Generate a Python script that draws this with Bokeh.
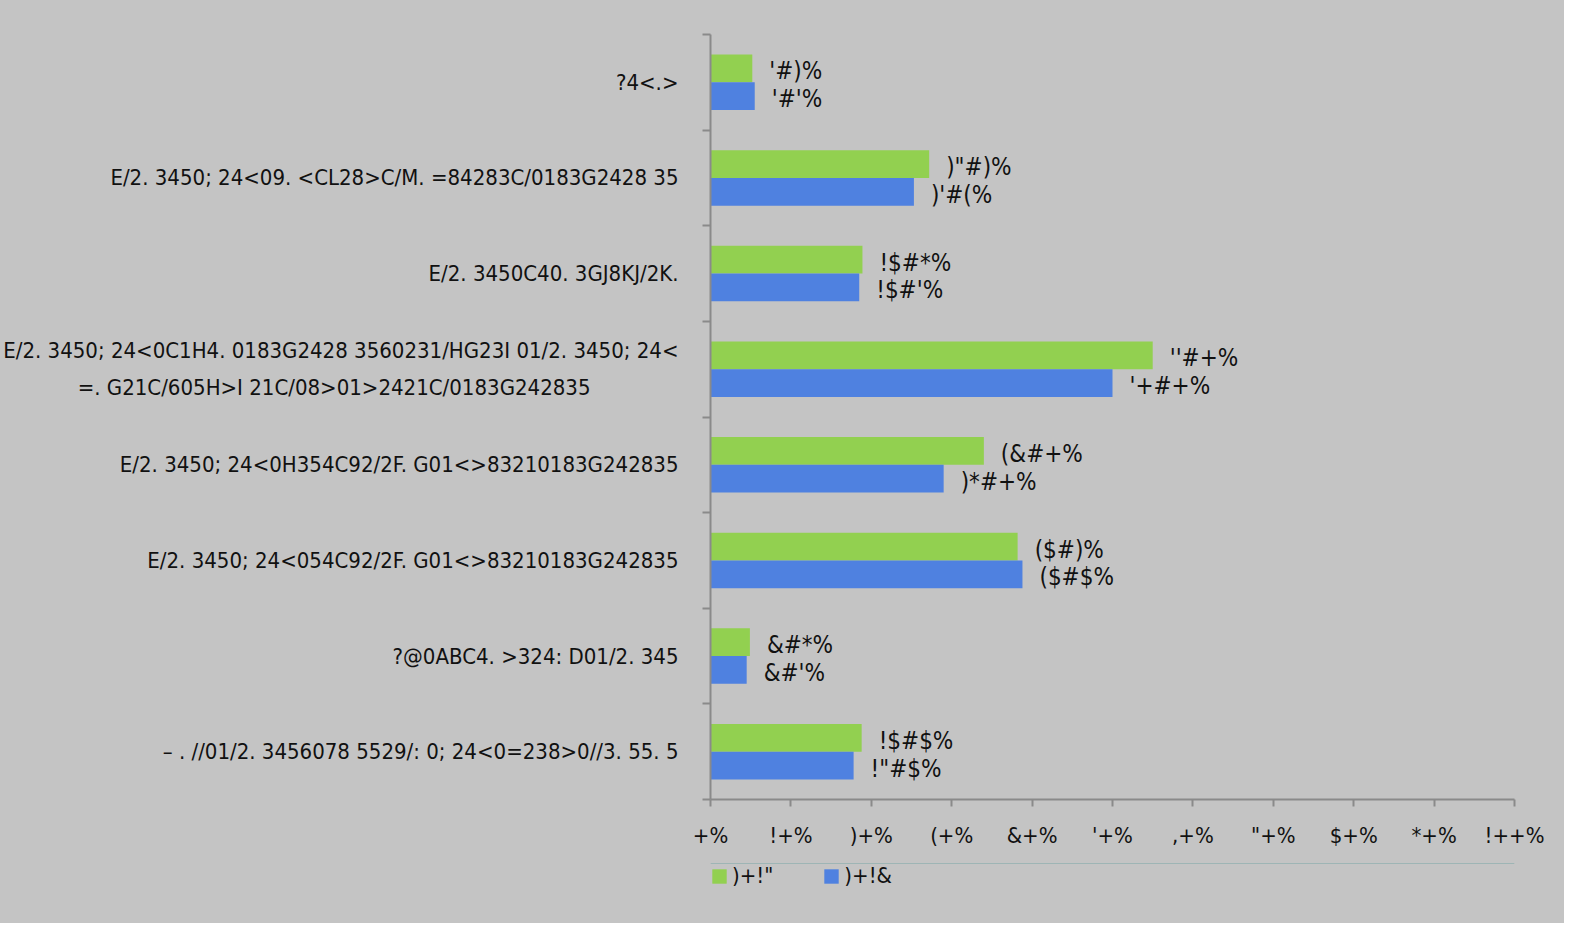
from bokeh.plotting import figure
from bokeh.layouts import column
from bokeh.models import Range1d, FixedTicker, Legend, LegendItem, ColumnDataSource
from bokeh.core.properties import value
from bokeh.embed import file_html
from bokeh.resources import INLINE

NB = "\u00a0"
categories = [
    "?4<.>",
    "E/2. 3450; 24<09. <CL28>C/M. =84283C/0183G2428 35",
    "E/2. 3450C40. 3GJ8KJ/2K.",
    "E/2. 3450; 24<0C1H4. 0183G2428 3560231/HG23I 01/2. 3450; 24<\n=. G21C/605H>I 21C/08>01>2421C/0183G242835" + NB * 14,
    "E/2. 3450; 24<0H354C92/2F. G01<>83210183G242835",
    "E/2. 3450; 24<054C92/2F. G01<>83210183G242835",
    "?@0ABC4. >324: D01/2. 345",
    "\u2013 . //01/2. 3456078 5529/: 0; 24<0=238>0//3. 55. 5",
]
series_names = [")+!\"", ")+!&"]
values_a = [5.2, 27.2, 18.9, 55.0, 34.0, 38.2, 4.9, 18.8]
values_b = [5.5, 25.3, 18.5, 50.0, 29.0, 38.8, 4.5, 17.8]
x_ticks = [0, 10, 20, 30, 40, 50, 60, 70, 80, 90, 100]
x_tick_labels = ["+%", "!+%", ")+%", "(+%", "&+%", "'+%", ",+%", "\"+%", "$+%", "*+%", "!++%"]

enc = {'0': '+', '1': '!', '2': ')', '3': '(', '4': '&', '5': "'", '6': ',', '7': '"', '8': '$', '9': '*', '.': '#'}
def encode(v):
    return "".join(enc.get(c, c) for c in f"{v:.1f}") + "%"

FONT = "'DejaVu Sans Condensed', 'Liberation Sans Narrow', Roboto, sans-serif"
BG = "#c4c4c4"
GREEN = "#92d050"
BLUE = "#4f81e0"
AX = "#8a8a8a"
TXT = "#111111"

n = len(categories)
centers = [i + 0.5 for i in range(n)]
off = 0.145
bh = 0.29

W = 1564
p = figure(width=W, height=859, output_backend="svg", toolbar_location=None,
           x_range=Range1d(0, 100), y_range=Range1d(n, 0),
           background_fill_color=BG, border_fill_color=BG,
           min_border_left=701, min_border_top=34, min_border_right=50, min_border_bottom=60,
           styles={"background-color": BG})
p.outline_line_color = None
p.grid.visible = False

src_a = ColumnDataSource(dict(y=[c - off for c in centers], x=values_a, lab=[encode(v) for v in values_a]))
src_b = ColumnDataSource(dict(y=[c + off for c in centers], x=values_b, lab=[encode(v) for v in values_b]))

p.hbar(y="y", right="x", left=0, height=bh, source=src_a, fill_color=GREEN, line_color=None)
p.hbar(y="y", right="x", left=0, height=bh, source=src_b, fill_color=BLUE, line_color=None)

for s in (src_a, src_b):
    p.text(x="x", y="y", text="lab", source=s, x_offset=17, y_offset=3,
           text_align="left", text_baseline="middle",
           text_font=value(FONT), text_font_size="24px", text_color=TXT)

# x axis
xa = p.xaxis[0]
xa.ticker = FixedTicker(ticks=x_ticks, minor_ticks=[])
xa.major_label_overrides = {t: l for t, l in zip(x_ticks, x_tick_labels)}
xa.axis_line_color = AX
xa.axis_line_width = 2
xa.major_tick_line_color = AX
xa.major_tick_line_width = 2
xa.major_tick_out = 7
xa.major_tick_in = 0
xa.minor_tick_line_color = None
xa.major_label_standoff = 16
xa.major_label_text_font = FONT
xa.major_label_text_font_size = "22px"
xa.major_label_text_color = TXT

# y axis
ya = p.yaxis[0]
ya.ticker = FixedTicker(ticks=centers, minor_ticks=[float(i) for i in range(n + 1)])
ya.major_label_overrides = {c: l for c, l in zip(centers, categories)}
ya.axis_line_color = AX
ya.axis_line_width = 2
ya.major_tick_line_color = None
ya.major_tick_out = 0
ya.major_tick_in = 0
ya.minor_tick_line_color = AX
ya.minor_tick_line_width = 2
ya.minor_tick_out = 8
ya.minor_tick_in = 0
ya.major_label_standoff = 24
ya.major_label_text_font = FONT
ya.major_label_text_font_size = "22px"
ya.major_label_text_line_height = 1.5
ya.major_label_text_color = TXT

# legend strip below the chart
q = figure(width=W, height=64, output_backend="svg", toolbar_location=None,
           x_axis_location=None, y_axis_location=None,
           x_range=Range1d(0, 1), y_range=Range1d(0, 1),
           background_fill_alpha=0, border_fill_alpha=0,
           min_border_left=698, min_border_top=4, min_border_right=50, min_border_bottom=0,
           styles={"background-color": BG})
q.outline_line_color = None
q.grid.visible = False
la = q.hbar(y=[5], right=[1], left=[0], height=0.1, fill_color=GREEN, line_color=None)
lb = q.hbar(y=[5], right=[1], left=[0], height=0.1, fill_color=BLUE, line_color=None)

legend = Legend(items=[LegendItem(label=series_names[0], renderers=[la]),
                       LegendItem(label=series_names[1], renderers=[lb])],
                orientation="horizontal", location="top_left",
                glyph_width=18, glyph_height=18, label_standoff=4, spacing=49,
                padding=0, margin=0, border_line_alpha=0, background_fill_alpha=0,
                label_text_font=FONT, label_text_font_size="22px", label_text_color=TXT)
q.add_layout(legend)

layout = column(p, q, spacing=0, styles={"background-color": BG})
open("out.html", "w").write(file_html(layout, INLINE))
